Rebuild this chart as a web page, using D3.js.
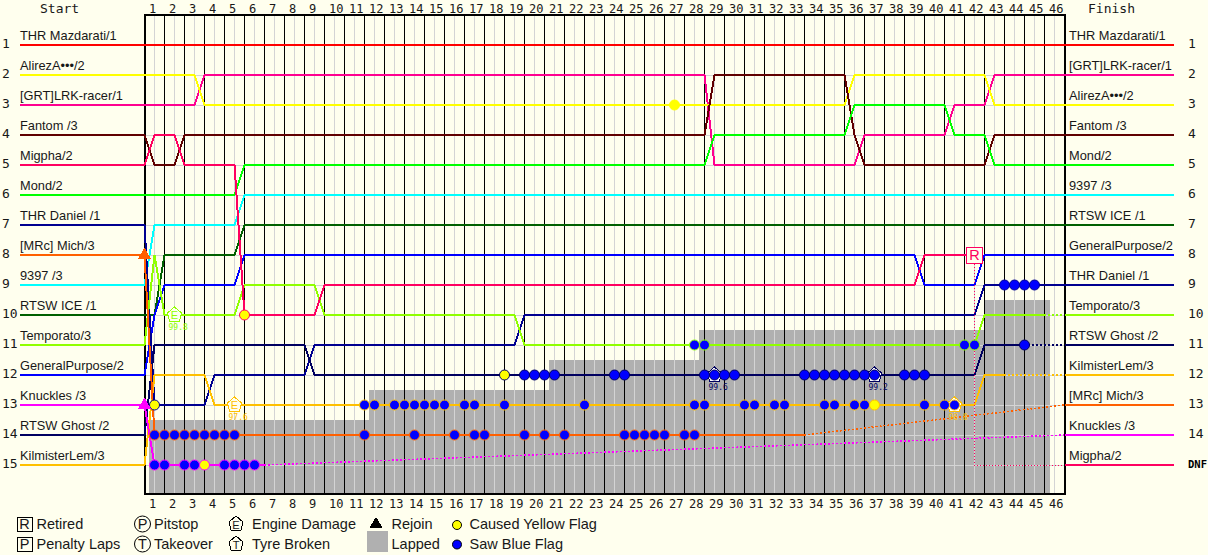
<!DOCTYPE html>
<html>
<head>
<meta charset="utf-8">
<script src="https://d3js.org/d3.v7.min.js"></script>
<style>
  body { margin: 0; background: #ffffee; }
  svg { display: block; shape-rendering: crispEdges; }
  text { shape-rendering: auto; }
  circle { shape-rendering: auto; }
  .name { font: 12.8px "Liberation Sans", Arial, sans-serif; fill: #181818; }
  .mono { font: 13px "DejaVu Sans Mono", monospace; fill: #181818; }
  .lapnum { font: 12px "DejaVu Sans Mono", monospace; fill: #181818; }
  .legend { font: 14.5px "Liberation Sans", Arial, sans-serif; fill: #181818; }
  .marklabel { font: 8px "DejaVu Sans Mono", monospace; }
</style>
</head>
<body>
<svg id="chart" width="1208" height="555"></svg>
<script>
// sectors are half laps: sector 1 = halfway through lap 1, sector 2 = end of lap 1
const laps = d3.range(1, 47);
const ranks = d3.range(1, 16);
const startNames = ["THR Mazdarati/1", "AlirezA•••/2", "[GRT]LRK-racer/1", "Fantom /3", "Migpha/2",
  "Mond/2", "THR Daniel /1", "[MRc] Mich/3", "9397 /3", "RTSW ICE /1",
  "Temporato/3", "GeneralPurpose/2", "Knuckles /3", "RTSW Ghost /2", "KilmisterLem/3"];
const finishNames = ["THR Mazdarati/1", "[GRT]LRK-racer/1", "AlirezA•••/2", "Fantom /3", "Mond/2",
  "9397 /3", "RTSW ICE /1", "GeneralPurpose/2", "THR Daniel /1", "Temporato/3",
  "RTSW Ghost /2", "KilmisterLem/3", "[MRc] Mich/3", "Knuckles /3", "Migpha/2"];
const finishRanks = ["1", "2", "3", "4", "5", "6", "7", "8", "9", "10", "11", "12", "13", "14", "DNF"];
const driverColors = ["#ff0000", "#ffff00", "#ff0090", "#600000", "#ff0060",
  "#00ff00", "#000090", "#ff6000", "#00ffff", "#006000",
  "#90ff00", "#0000ff", "#ff00ff", "#000060", "#ffc000"];

// [sector, new position] for each driver in start order
const positionChanges = [
  [],
  [[6, 3], [71, 2], [85, 3]],
  [[6, 2], [57, 5], [72, 4], [81, 3], [85, 2]],
  [[1, 5], [4, 4], [57, 2], [71, 4], [72, 5], [85, 4]],
  [[1, 4], [4, 5], [10, 10], [18, 9], [78, 8]],
  [[10, 5], [57, 4], [71, 3], [81, 4], [85, 5]],
  [[1, 13], [7, 12], [17, 11], [38, 10], [84, 9]],
  [[1, 14]],
  [[1, 7], [10, 6]],
  [[2, 8], [10, 7]],
  [[1, 8], [2, 10], [10, 9], [18, 10], [38, 11], [84, 10]],
  [[1, 10], [2, 9], [10, 8], [78, 9], [84, 8]],
  [[1, 15]],
  [[1, 11], [17, 12], [84, 11]],
  [[1, 12], [7, 13], [84, 12]]
];

// dotted tails: driver, then [sector, position] points
const dottedTails = [
  [10, [[90, 10], [92, 10]]],
  [13, [[88, 11], [92, 11]]],
  [14, [[86, 12], [92, 12]]],
  [7, [[66, 14], [92, 13]]],
  [12, [[12, 15], [92, 14]]],
  [4, [[83, 8], [83, 15], [92, 15]]]
];

const blueFlags = [
  [7, [1, 2, 3, 4, 5, 6, 7, 8, 9, 22, 27, 31, 33, 34, 38, 40, 42, 48, 49, 50, 51, 52, 54, 55]],
  [12, [1, 2, 4, 5, 8, 9, 10, 11]],
  [14, [22, 23, 25, 26, 27, 28, 29, 30, 32, 33, 36, 44, 55, 56, 60, 61, 63, 64, 68, 69, 71, 72, 78, 80, 81]],
  [13, [38, 39, 40, 41, 47, 48, 56, 57, 58, 59, 66, 67, 68, 69, 70, 71, 72, 73, 76, 77, 78, 88]],
  [6, [86, 87, 88, 89]],
  [10, [55, 56, 82, 83]]
];
const yellowFlags = [[6, 1], [4, 10], [12, 6], [13, 36], [1, 53], [14, 73]];
const rejoins = [[7, 0], [12, 0]];
const engineDamage = [[10, 3, "99.8"], [14, 9, "97.6"]];
const tyreBroken = [[13, 57, "99.6"], [13, 73, "99.2"], [14, 81, "98.8"]];
const retired = [[4, 83]];

const lappedFrom = [0.225, 11.225, 20.225, 27.725, 41.975];
const lappedTopRow = [13.5, 12.5, 11.5, 10.5, 9.5];
const lappedUntil = 45.275;

const plot = { left: 144.5, right: 1064.5, top: 15, bottom: 494 };
const xLap = d3.scaleLinear().domain([0, 46]).range([plot.left, plot.right]);
const xSector = d3.scaleLinear().domain([0, 92]).range([plot.left, plot.right]);
const yRow = d3.scaleLinear().domain([1, 15]).range([45, 465]);

const svg = d3.select("#chart");
const lineGen = d3.line().x(d => xSector(d[0])).y(d => yRow(d[1]));

function trackPoints(i) {
  const tail = dottedTails.find(t => t[0] === i);
  const end = tail ? tail[1][0][0] : 92;
  const pts = [[0, i + 1]];
  positionChanges[i].forEach(([s, row]) => {
    const last = pts[pts.length - 1];
    if (last[0] < s - 1) pts.push([s - 1, last[1]]);
    pts.push([s, row]);
  });
  pts.push([end, pts[pts.length - 1][1]]);
  return pts;
}

function rowAt(i, sector) {
  let row = i + 1;
  positionChanges[i].forEach(c => { if (c[0] <= sector) row = c[1]; });
  return row;
}

// plot ground
svg.append("g").selectAll("rect")
  .data(lappedFrom)
  .join("rect")
  .attr("x", d => xLap(d))
  .attr("width", d => xLap(lappedUntil) - xLap(d))
  .attr("y", (d, i) => yRow(lappedTopRow[i]))
  .attr("height", (d, i) => plot.bottom - yRow(lappedTopRow[i]))
  .attr("fill", "#b0b0b0");

// grid
svg.append("g").selectAll("line")
  .data(ranks)
  .join("line")
  .attr("x1", plot.left).attr("x2", plot.right)
  .attr("y1", d => yRow(d)).attr("y2", d => yRow(d))
  .attr("stroke", "#d4d4d4");
svg.append("g").selectAll("line")
  .data(laps)
  .join("line")
  .attr("x1", d => xLap(d - 0.5)).attr("x2", d => xLap(d - 0.5))
  .attr("y1", plot.top).attr("y2", plot.bottom)
  .attr("stroke", "#d4d4d4");
svg.append("g").selectAll("line")
  .data(laps)
  .join("line")
  .attr("x1", d => xLap(d)).attr("x2", d => xLap(d))
  .attr("y1", plot.top).attr("y2", plot.bottom)
  .attr("stroke", "#000");

svg.append("rect")
  .attr("x", plot.left).attr("y", plot.top)
  .attr("width", plot.right - plot.left).attr("height", plot.bottom - plot.top)
  .attr("fill", "none").attr("stroke", "#000").attr("stroke-width", 2);

// lap numbers
[[d3.axisTop, 13], [d3.axisBottom, 508]].forEach(([axis, y]) => {
  const g = svg.append("g")
    .attr("transform", `translate(-16,${y})`)
    .call(axis(xLap).tickValues(laps).tickSize(0).tickPadding(0).tickFormat(d3.format("d")));
  g.select(".domain").remove();
  g.selectAll("text")
    .attr("class", "lapnum")
    .attr("text-anchor", "start")
    .attr("y", 0).attr("dy", 0);
  g.attr("font-family", null).attr("font-size", null);
});

svg.append("text").attr("class", "mono").attr("x", 40).attr("y", 13).text("Start");
svg.append("text").attr("class", "mono").attr("x", 1088).attr("y", 13).text("Finish");

// left and right driver stubs
const leftRows = svg.append("g").selectAll("g").data(startNames).join("g");
leftRows.append("line")
  .attr("x1", 20).attr("x2", plot.left)
  .attr("y1", (d, i) => yRow(i + 1)).attr("y2", (d, i) => yRow(i + 1))
  .attr("stroke", (d, i) => driverColors[i]).attr("stroke-width", 2);
leftRows.append("text").attr("class", "name")
  .attr("x", 20).attr("y", (d, i) => yRow(i + 1) - 5).text(d => d);
leftRows.append("text").attr("class", "mono")
  .attr("x", 2).attr("y", (d, i) => yRow(i + 1) + 3).text((d, i) => ranks[i]);

const rightRows = svg.append("g").selectAll("g").data(finishNames).join("g");
rightRows.append("line")
  .attr("x1", plot.right).attr("x2", 1174)
  .attr("y1", (d, i) => yRow(i + 1)).attr("y2", (d, i) => yRow(i + 1))
  .attr("stroke", d => driverColors[startNames.indexOf(d)]).attr("stroke-width", 2);
rightRows.append("text").attr("class", "name")
  .attr("x", 1069).attr("y", (d, i) => yRow(i + 1) - 5).text(d => d);
rightRows.append("text")
  .attr("class", (d, i) => finishRanks[i] === "DNF" ? "lapnum" : "mono")
  .attr("x", 1188).attr("y", (d, i) => yRow(i + 1) + 3)
  .style("font-size", (d, i) => finishRanks[i] === "DNF" ? "10.5px" : null)
  .style("font-weight", (d, i) => finishRanks[i] === "DNF" ? "bold" : null)
  .style("fill", (d, i) => finishRanks[i] === "DNF" ? "#000" : null)
  .text((d, i) => finishRanks[i]);

// position lines, last finisher on top
svg.append("g").selectAll("path")
  .data(finishNames.map(n => startNames.indexOf(n)))
  .join("path")
  .attr("d", i => lineGen(trackPoints(i)))
  .attr("fill", "none")
  .attr("stroke", i => driverColors[i])
  .attr("stroke-width", 2);

// the retired driver's tail is thinner than the lapped ones
svg.append("g")
  .attr("transform", "translate(-0.5,0)")
  .selectAll("path")
  .data(dottedTails)
  .join("path")
  .attr("d", d => lineGen(d[1]))
  .attr("fill", "none")
  .attr("stroke", d => driverColors[d[0]])
  .attr("stroke-width", d => d[1].length > 2 ? 1 : 1.5)
  .attr("stroke-dasharray", d => d[1].length > 2 ? "1 2" : "2 2");

// engine and tyre markers
const pentagonUp = "M0,-8L7,-2L5,6L-5,6L-7,-2Z";
function drawMarks(data, letter, path) {
  const g = svg.append("g").selectAll("g").data(data).join("g")
    .attr("transform", d => `translate(${xSector(d[1])},${yRow(rowAt(d[0], d[1]))})`);
  g.append("path").attr("d", path)
    .attr("fill", letter === "E" ? "#ffffee" : "#fff")
    .attr("stroke", d => driverColors[d[0]]);
  g.append("text").attr("class", "name")
    .attr("text-anchor", "middle").attr("y", 4)
    .style("font-size", "11px").style("fill", d => driverColors[d[0]])
    .text(letter);
  g.append("text").attr("class", "marklabel")
    .attr("x", -6).attr("y", 15)
    .attr("fill", d => driverColors[d[0]])
    .text(d => d[2]);
}
drawMarks(engineDamage, "E", pentagonUp);
drawMarks(tyreBroken, "", pentagonUp);

// flags
const blueDots = blueFlags.flatMap(([driver, sectors]) => sectors.map(s => [driver, s]));
svg.append("g").selectAll("circle")
  .data(blueDots)
  .join("circle")
  .attr("cx", d => xSector(d[1]))
  .attr("cy", d => yRow(rowAt(d[0], d[1])))
  .attr("r", 5)
  .attr("fill", "#0000ff")
  .attr("stroke", d => driverColors[d[0]]);
svg.append("g").selectAll("circle")
  .data(yellowFlags)
  .join("circle")
  .attr("cx", d => xSector(d[1]))
  .attr("cy", d => yRow(rowAt(d[0], d[1])))
  .attr("r", 5)
  .attr("fill", "#ffff00")
  .attr("stroke", d => driverColors[d[0]]);

// rejoin triangles
const triangle = d3.symbol().type(d3.symbolTriangle).size(70);
svg.append("g").selectAll("path")
  .data(rejoins)
  .join("path")
  .attr("d", triangle())
  .attr("transform", d => `translate(${xSector(d[1])},${yRow(d[0] + 1)})`)
  .attr("fill", d => driverColors[d[0]]);

// retired box
const retiredBox = svg.append("g").selectAll("g").data(retired).join("g")
  .attr("transform", d => `translate(${xSector(d[1])},${yRow(rowAt(d[0], d[1]))})`);
retiredBox.append("rect")
  .attr("x", -8).attr("y", -8).attr("width", 16).attr("height", 16)
  .attr("fill", "#ffffee").attr("stroke", d => driverColors[d[0]]);
retiredBox.append("text").attr("class", "legend")
  .attr("text-anchor", "middle").attr("y", 5)
  .style("fill", d => driverColors[d[0]]).text("R");

// legend
const legend = svg.append("g");
function boxItem(x, y, letter, label) {
  legend.append("rect").attr("x", x).attr("y", y - 7).attr("width", 15).attr("height", 14)
    .attr("fill", "none").attr("stroke", "#000");
  legend.append("text").attr("class", "legend").attr("x", x + 7.5).attr("y", y + 5)
    .attr("text-anchor", "middle").text(letter);
  legend.append("text").attr("class", "legend").attr("x", x + 19.5).attr("y", y + 5).text(label);
}
function circleItem(x, y, letter, label) {
  legend.append("circle").attr("cx", x).attr("cy", y).attr("r", 8)
    .attr("fill", "none").attr("stroke", "#000");
  legend.append("text").attr("class", "legend").attr("x", x).attr("y", y + 5)
    .attr("text-anchor", "middle").text(letter);
  legend.append("text").attr("class", "legend").attr("x", x + 11.5).attr("y", y + 5).text(label);
}
function shapeItem(x, y, letter, label) {
  legend.append("path").attr("d", pentagonUp)
    .attr("transform", `translate(${x},${y})`)
    .attr("fill", "none").attr("stroke", "#000");
  legend.append("text").attr("class", "name").attr("x", x).attr("y", y + 4.5)
    .attr("text-anchor", "middle").style("font-size", "11px").text(letter);
  legend.append("text").attr("class", "legend").attr("x", x + 16).attr("y", y + 5).text(label);
}
boxItem(17, 524, "R", "Retired");
boxItem(17, 544, "P", "Penalty Laps");
circleItem(142.5, 524, "P", "Pitstop");
circleItem(142.5, 544, "T", "Takeover");
shapeItem(236, 524, "E", "Engine Damage");
shapeItem(236, 544, "T", "Tyre Broken");
legend.append("path").attr("d", triangle()).attr("transform", "translate(376,524)").attr("fill", "#000");
legend.append("text").attr("class", "legend").attr("x", 391.5).attr("y", 529).text("Rejoin");
legend.append("rect").attr("x", 367).attr("y", 531).attr("width", 21).attr("height", 21).attr("fill", "#b0b0b0");
legend.append("text").attr("class", "legend").attr("x", 391.5).attr("y", 549).text("Lapped");
legend.append("circle").attr("cx", 457).attr("cy", 525).attr("r", 4.5).attr("fill", "#ffff00").attr("stroke", "#000");
legend.append("text").attr("class", "legend").attr("x", 469.5).attr("y", 529).text("Caused Yellow Flag");
legend.append("circle").attr("cx", 457).attr("cy", 544.5).attr("r", 4.5).attr("fill", "#0000ff").attr("stroke", "#000");
legend.append("text").attr("class", "legend").attr("x", 469.5).attr("y", 549).text("Saw Blue Flag");
</script>
</body>
</html>
